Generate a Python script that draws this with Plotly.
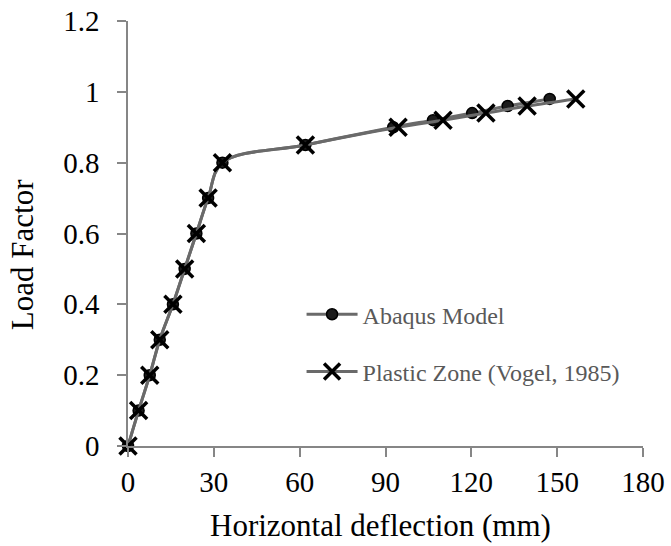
import plotly.graph_objects as go

# Data
load_factor = [0, 0.1, 0.2, 0.3, 0.4, 0.5, 0.6, 0.7, 0.8, 0.85, 0.9, 0.92, 0.94, 0.96, 0.98]
abaqus_x = [0, 3.7, 7.6, 11.1, 15.7, 19.8, 23.9, 28.0, 33.0, 62.0, 92.7, 106.6, 120.3, 132.7, 147.4]
vogel_x = [0, 3.7, 7.6, 11.1, 15.7, 19.8, 23.9, 28.0, 33.0, 62.0, 94.4, 110.1, 125.1, 139.5, 156.5]

x_ticks = [0, 30, 60, 90, 120, 150, 180]
y_ticks = [0, 0.2, 0.4, 0.6, 0.8, 1.0, 1.2]
y_tick_text = ["0", "0.2", "0.4", "0.6", "0.8", "1", "1.2"]

FONT = "Times New Roman, Liberation Serif, serif"
LINE_COLOR = "#6a6a6a"
AXIS_COLOR = "#868686"

fig = go.Figure()
fig.add_trace(go.Scatter(
    x=abaqus_x, y=load_factor, name="Abaqus Model", legendgroup="a",
    mode="lines+markers", cliponaxis=False,
    line=dict(color=LINE_COLOR, width=3, shape="spline", smoothing=1),
    marker=dict(symbol="circle", size=11, color="#1c1c1c", line=dict(color="#000000", width=1.5)),
))
fig.add_trace(go.Scatter(
    x=vogel_x, y=load_factor, name="Plastic Zone (Vogel, 1985)", legendgroup="b",
    mode="lines+markers", cliponaxis=False,
    line=dict(color=LINE_COLOR, width=3, shape="spline", smoothing=1),
    marker=dict(symbol="x-thin", size=17, color="#000000", line=dict(color="#000000", width=3.5)),
))

fig.update_layout(
    width=671, height=546,
    margin=dict(l=128, r=28, t=21, b=100, autoexpand=False),
    paper_bgcolor="white", plot_bgcolor="white",
    font=dict(family=FONT, size=29, color="#000000"),
    showlegend=True,
    legend=dict(
        x=0.337, y=0.362, xanchor="left", yanchor="top",
        font=dict(family=FONT, size=24, color="#595959"),
        bgcolor="rgba(0,0,0,0)", itemwidth=51, tracegroupgap=23,
    ),
    xaxis=dict(
        range=[0, 180], tickvals=x_ticks, ticktext=[str(v) for v in x_ticks], automargin=False,
        showgrid=False, zeroline=False, showline=True, linecolor=AXIS_COLOR, linewidth=1.5,
        ticks="outside", ticklen=9, tickcolor=AXIS_COLOR, tickwidth=1.5,
        tickfont=dict(family=FONT, size=29, color="#000000"),
    ),
    yaxis=dict(
        range=[0, 1.2], tickvals=y_ticks, ticktext=y_tick_text, automargin=False,
        showgrid=False, zeroline=False, showline=True, linecolor=AXIS_COLOR, linewidth=1.5,
        ticks="outside", ticklen=9, tickcolor=AXIS_COLOR, tickwidth=1.5,
        tickfont=dict(family=FONT, size=29, color="#000000"), ticklabelstandoff=12,
    ),
    annotations=[
        dict(text="Horizontal deflection (mm)", xref="paper", yref="paper",
             x=0.49, y=-0.14, xanchor="center", yanchor="top", showarrow=False,
             font=dict(family=FONT, size=31, color="#000000")),
        dict(text="Load Factor", xref="paper", yref="paper",
             x=-0.205, y=0.45, xanchor="center", yanchor="middle", textangle=-90, showarrow=False,
             font=dict(family=FONT, size=31, color="#000000")),
    ],
)

fig.write_html("out.html")
